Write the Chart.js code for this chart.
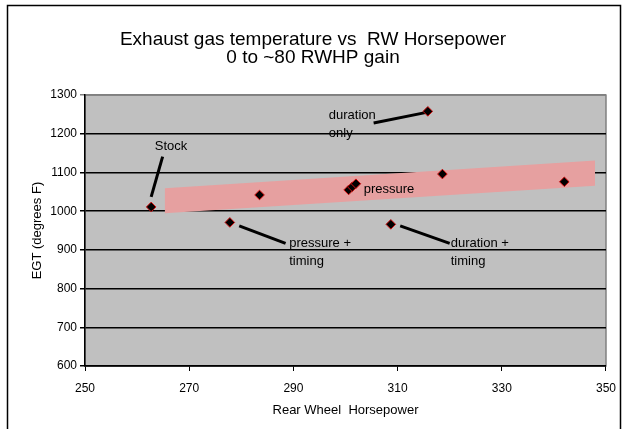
<!DOCTYPE html>
<html>
<head>
<meta charset="utf-8">
<script src="https://cdn.jsdelivr.net/npm/chart.js@4.4.0/dist/chart.umd.min.js"></script>
<style>
  html, body { margin: 0; padding: 0; background: #fff; }
  #wrap { width: 626px; height: 429px; }
</style>
</head>
<body>
<div id="wrap"><canvas id="egtChart" width="626" height="429"></canvas></div>
<script>
// rear wheel hp vs exhaust gas temp (deg F)
const rwhp = [262.7, 277.8, 283.5, 300.6, 301.3, 302.0, 308.7, 315.8, 318.6, 342.0];
const egt = [1011, 971, 1042, 1055, 1063, 1071, 966, 1258, 1096, 1076];

// shaded trend band
const bandX = [265.3, 347.9];
const bandTop = [1059, 1131];
const bandBottom = [995, 1066];

// callout labels and their pointer lines
const noteLines = [["Stock"], ["duration", "only"], ["pressure"], ["pressure +", "timing"], ["duration +", "timing"]];
const noteX = [263.4, 296.8, 303.5, 289.2, 320.2];
const noteY = [1167, 1247, 1057, 917, 917];
const pointerFromX = [264.9, 305.4, null, 279.6, 310.5];
const pointerFromY = [1141, 1228, null, 962, 962];
const pointerToX = [262.7, 315.8, null, 288.5, 320.0];
const pointerToY = [1037, 1256, null, 917, 917];

const xTicks = [250, 270, 290, 310, 330, 350];
const yTicks = [600, 700, 800, 900, 1000, 1100, 1200, 1300];

const FONT = "'Liberation Sans', Arial, sans-serif";

const datasets = [];
datasets.push({
  label: "EGT",
  order: 0,
  data: rwhp.map((x, i) => ({ x: x, y: egt[i] })),
  pointStyle: "rectRot", pointRadius: 4.8,
  backgroundColor: "#000", borderColor: "#d01010", borderWidth: 1
});
pointerFromX.forEach((x, i) => {
  if (x == null) return;
  datasets.push({
    label: "pointer" + i,
    order: 1,
    data: [{ x: x, y: pointerFromY[i] }, { x: pointerToX[i], y: pointerToY[i] }],
    showLine: true, borderColor: "#000", borderWidth: 3, pointRadius: 0, fill: false
  });
});
datasets.push({
  label: "bandTop",
  order: 5,
  data: bandX.map((x, i) => ({ x: x, y: bandTop[i] })),
  showLine: true, borderWidth: 0, pointRadius: 0,
  backgroundColor: "#e6a0a0", fill: "+1"
});
datasets.push({
  label: "bandBottom",
  order: 6,
  data: bandX.map((x, i) => ({ x: x, y: bandBottom[i] })),
  showLine: true, borderWidth: 0, pointRadius: 0, fill: false
});

const frame = {
  id: "frame",
  beforeDraw(chart) {
    const ctx = chart.ctx, a = chart.chartArea;
    ctx.save();
    ctx.fillStyle = "#c0c0c0";
    ctx.fillRect(a.left, a.top, a.right - a.left, a.bottom - a.top);
    ctx.strokeStyle = "#808080";
    ctx.lineWidth = 1.5;
    ctx.strokeRect(a.left, a.top, a.right - a.left, a.bottom - a.top);
    ctx.strokeStyle = "#000";
    ctx.lineWidth = 1.5;
    ctx.strokeRect(7.5, 5.5, 613, 440);
    ctx.restore();
  }
};

const notes = {
  id: "notes",
  afterDatasetsDraw(chart) {
    const ctx = chart.ctx, xs = chart.scales.x, ys = chart.scales.y;
    ctx.save();
    ctx.font = "13px " + FONT;
    ctx.fillStyle = "#000";
    ctx.textAlign = "left";
    ctx.textBaseline = "middle";
    noteLines.forEach((lines, i) => {
      const px = xs.getPixelForValue(noteX[i]);
      const py = ys.getPixelForValue(noteY[i]);
      lines.forEach((t, j) => ctx.fillText(t, px, py + j * 18));
    });
    ctx.restore();
  }
};

new Chart("egtChart", {
  type: "scatter",
  data: { datasets: datasets },
  plugins: [frame, notes],
  options: {
    responsive: false,
    animation: false,
    layout: { padding: { left: 18, right: 18, top: 0, bottom: 0 } },
    plugins: {
      legend: { display: false },
      tooltip: { enabled: false },
      title: {
        display: true,
        text: ["Exhaust gas temperature vs  RW Horsepower", "0 to ~80 RWHP gain"],
        color: "#000",
        font: { family: FONT, size: 19, weight: "normal", lineHeight: 0.95 },
        padding: { top: 31, bottom: 28 }
      }
    },
    scales: {
      x: {
        type: "linear", min: 250, max: 350,
        afterBuildTicks: (s) => { s.ticks = xTicks.map(v => ({ value: v })); },
        afterFit: (s) => { s.height = 63; },
        grid: { drawOnChartArea: false, color: "#000", tickLength: 5 },
        border: { color: "#000", width: 1.5 },
        ticks: { color: "#000", font: { family: FONT, size: 12 }, padding: 10, maxRotation: 0,
          callback: (v) => String(v) },
        title: {
          display: true, text: "Rear Wheel  Horsepower", color: "#000",
          font: { family: FONT, size: 13 }, padding: { top: 0, bottom: 11 }
        }
      },
      y: {
        type: "linear", min: 600, max: 1300,
        afterBuildTicks: (s) => { s.ticks = yTicks.map(v => ({ value: v })); },
        afterFit: (s) => { s.width = 67; },
        grid: {
          color: (c) => (c.tick && c.tick.value === 1300 ? "#808080" : "#000"),
          lineWidth: 1.5, tickLength: 5
        },
        border: { color: "#000", width: 1.5 },
        ticks: { color: "#000", font: { family: FONT, size: 12 }, padding: 3,
          callback: (v) => String(v) },
        title: {
          display: true, text: "EGT (degrees F)", color: "#000",
          font: { family: FONT, size: 13 }, padding: { top: 12, bottom: 0 }
        }
      }
    }
  }
});
</script>
</body>
</html>
